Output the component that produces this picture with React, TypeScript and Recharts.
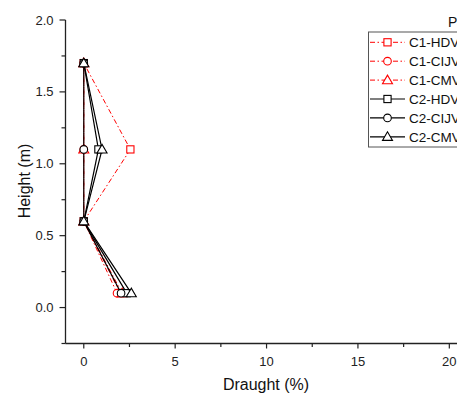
import React from 'react';
import { ScatterChart, Scatter, XAxis, YAxis } from 'recharts';

const heights = [0.1, 0.6, 1.1, 1.7];
const c1Hdv = [2.0, 0, 2.55, 0];
const c1Cijv = [1.82, 0, 0, 0];
const c1Cmv = [2.1, 0, 0, 0];
const c2Hdv = [2.35, 0, 0.8, 0];
const c2Cijv = [2.04, 0, 0, 0];
const c2Cmv = [2.6, 0, 1.0, 0];

const seriesNames = ['C1-HDV', 'C1-CIJV', 'C1-CMV', 'C2-HDV', 'C2-CIJV', 'C2-CMV'];
const seriesValues = [c1Hdv, c1Cijv, c1Cmv, c2Hdv, c2Cijv, c2Cmv];
const seriesShapes = ['square', 'circle', 'triangle', 'square', 'circle', 'triangle'];
const legendTitle = 'P4';

const xMajorTicks = [0, 5, 10, 15, 20];
const xMinorTicks = [2.5, 7.5, 12.5, 17.5];
const yMajorTicks = [0, 0.5, 1.0, 1.5, 2.0];
const yMinorTicks = [-0.25, 0.25, 0.75, 1.25, 1.75];

const FONT = '"Liberation Sans", Arial, sans-serif';
const RED = '#ff0000';
const BLACK = '#000000';
const AXIS = '#222222';
const RED_DASH = '5 2.5 1.5 2.5';

const Marker = ({ cx, cy, kind, color }: any) => {
  if (cx == null || cy == null) return null;
  const sw = 1.1;
  if (kind === 'square') {
    return <rect x={cx - 3.6} y={cy - 3.6} width={7.2} height={7.2} fill="#fff" stroke={color} strokeWidth={sw} />;
  }
  if (kind === 'circle') {
    return <circle cx={cx} cy={cy} r={3.8} fill="#fff" stroke={color} strokeWidth={sw} />;
  }
  return (
    <polygon
      points={`${cx},${cy - 5} ${cx - 5},${cy + 3.6} ${cx + 5},${cy + 3.6}`}
      fill="#fff"
      stroke={color}
      strokeWidth={sw}
    />
  );
};

const YTick = ({ x, y, payload }: any) => {
  const v = payload.value;
  const major = yMajorTicks.some((t) => Math.abs(t - v) < 1e-6);
  return (
    <g>
      <line x1={x} x2={x - (major ? 6 : 4)} y1={y} y2={y} stroke={AXIS} strokeWidth={1.2} />
      {major && (
        <text x={x - 12} y={y} dy="0.35em" textAnchor="end" fontSize={13} fontFamily={FONT} fill="#222">
          {v.toFixed(1)}
        </text>
      )}
    </g>
  );
};

const XTick = ({ x, y, payload }: any) => {
  const v = payload.value;
  const major = xMajorTicks.some((t) => Math.abs(t - v) < 1e-6);
  return (
    <g>
      <line x1={x} x2={x} y1={y} y2={y + (major ? 5 : 3.5)} stroke={AXIS} strokeWidth={1.2} />
      {major && (
        <text x={x} y={y + 17.5} dy="0.35em" textAnchor="middle" fontSize={13} fontFamily={FONT} fill="#222">
          {String(v)}
        </text>
      )}
    </g>
  );
};

export default function App() {
  const series = seriesNames.map((name, i) => ({
    name,
    color: i < 3 ? RED : BLACK,
    dashed: i < 3,
    shape: seriesShapes[i],
    data: heights.map((h, j) => ({ x: seriesValues[i][j], y: h })),
  }));

  return (
    <div style={{ position: 'relative', width: 457, height: 392, overflow: 'hidden', fontFamily: FONT }}>
      <ScatterChart width={520} height={392} margin={{ top: 12, right: 60.4, bottom: 26.5, left: 0 }}>
        <XAxis
          type="number"
          dataKey="x"
          domain={[-1, 21]}
          ticks={[...xMajorTicks, ...xMinorTicks].sort((a, b) => a - b)}
          interval={0}
          tickSize={0}
          tickMargin={0}
          tickLine={false}
          tick={<XTick />}
          axisLine={{ stroke: AXIS, strokeWidth: 1.3 }}
          height={30}
          allowDataOverflow
        />
        <YAxis
          type="number"
          dataKey="y"
          domain={[-0.25, 2.0]}
          ticks={[...yMinorTicks, ...yMajorTicks].sort((a, b) => a - b)}
          interval={0}
          tickSize={0}
          tickMargin={0}
          tickLine={false}
          tick={<YTick />}
          axisLine={{ stroke: AXIS, strokeWidth: 1.3 }}
          width={57.5}
          allowDataOverflow
        />
        {series.map((s) => (
          <Scatter
            key={s.name}
            name={s.name}
            data={s.data}
            fill={s.color}
            isAnimationActive={false}
            line={{
              stroke: s.color,
              strokeWidth: s.dashed ? 1 : 1.2,
              strokeDasharray: s.dashed ? RED_DASH : undefined,
            }}
            lineType="joint"
            shape={(p: any) => <Marker cx={p.cx} cy={p.cy} kind={s.shape} color={s.color} />}
          />
        ))}
      </ScatterChart>
      <svg
        width={457}
        height={392}
        style={{ position: 'absolute', left: 0, top: 0, pointerEvents: 'none' }}
      >
        <text x={258} y={382} textAnchor="middle" fontSize={16} fontFamily={FONT} fill="#111">
          Draught (%)
        </text>
        <text
          x={22}
          y={173}
          transform="rotate(-90 22 173)"
          textAnchor="middle"
          fontSize={16}
          fontFamily={FONT}
          fill="#111"
        >
          Height (m)
        </text>
        <text x={440} y={18.7} fontSize={14} fontFamily={FONT} fill="#111">
          {legendTitle}
        </text>
        <rect x={360.5} y={24} width={120} height={115} fill="#fff" stroke="#555" strokeWidth={1} />
        {series.map((s, i) => {
          const cy = 34.3 + i * 18.9;
          return (
            <g key={s.name}>
              <line
                x1={362}
                x2={397}
                y1={cy}
                y2={cy}
                stroke={s.color}
                strokeWidth={s.dashed ? 1 : 1.2}
                strokeDasharray={s.dashed ? RED_DASH : undefined}
              />
              <Marker cx={379.5} cy={cy} kind={s.shape} color={s.color} />
              <text x={401} y={cy} dy="0.35em" fontSize={13.5} fontFamily={FONT} fill="#111">
                {s.name}
              </text>
            </g>
          );
        })}
      </svg>
    </div>
  );
}
